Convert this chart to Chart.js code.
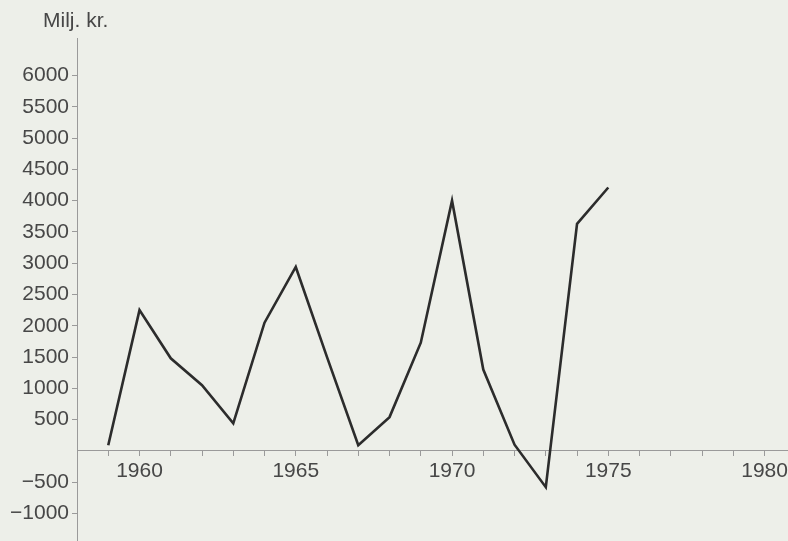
<!DOCTYPE html>
<html>
<head>
<meta charset="utf-8">
<script src="https://cdn.jsdelivr.net/npm/chart.js@4.4.0/dist/chart.umd.min.js"></script>
<style>
  html, body { margin: 0; padding: 0; background: #edefe9; overflow: hidden; }
  #wrap { position: relative; width: 788px; height: 541px; }
</style>
</head>
<body>
<div id="wrap"><canvas id="c" width="788" height="541"></canvas></div>
<script>
const unitLabel = 'Milj. kr.';
const years = [1959, 1960, 1961, 1962, 1963, 1964, 1965, 1966, 1967, 1968, 1969, 1970, 1971, 1972, 1973, 1974, 1975];
const values = [90, 2250, 1480, 1050, 440, 2050, 2940, 1500, 90, 540, 1730, 4000, 1300, 100, -580, 3630, 4210];
const yTickValues = [-1000, -500, 500, 1000, 1500, 2000, 2500, 3000, 3500, 4000, 4500, 5000, 5500, 6000];
const xLabelYears = [1960, 1965, 1970, 1975, 1980];
const xTickYears = [1959,1960,1961,1962,1963,1964,1965,1966,1967,1968,1969,1970,1971,1972,1973,1974,1975,1976,1977,1978,1979,1980];

const textColor = '#474747';
const axisColor = '#9a9a9a';
const font = { family: '"Liberation Sans", Arial, sans-serif', size: 21 };

const unitPlugin = {
  id: 'unitLabel',
  afterDraw(chart) {
    const ctx = chart.ctx;
    ctx.save();
    ctx.fillStyle = textColor;
    ctx.font = '21px "Liberation Sans", Arial, sans-serif';
    ctx.textAlign = 'left';
    ctx.textBaseline = 'alphabetic';
    ctx.fillText(unitLabel, 43, 27);
    ctx.restore();
  }
};

new Chart(document.getElementById('c'), {
  type: 'line',
  data: {
    datasets: [{
      data: years.map((y, i) => ({ x: y, y: values[i] })),
      borderColor: '#2c2c2c',
      borderWidth: 2.6,
      pointRadius: 0,
      tension: 0,
      fill: false
    }]
  },
  options: {
    responsive: false,
    animation: false,
    layout: { padding: { top: 38, left: 0, right: 0, bottom: 0 } },
    plugins: { legend: { display: false }, tooltip: { enabled: false } },
    scales: {
      x: {
        type: 'linear',
        position: { y: 0 },
        min: 1958,
        max: 1980.75,
        afterBuildTicks(scale) {
          scale.ticks = xTickYears.map(v => ({ value: v }));
        },
        afterFit(scale) {
          scale.paddingLeft = 0; scale.paddingRight = 0;
        },
        grid: { drawOnChartArea: false, drawTicks: true, tickLength: 5, color: axisColor, lineWidth: 1 },
        border: { display: true, color: axisColor, width: 1 },
        ticks: {
          autoSkip: false,
          maxRotation: 0,
          padding: 3,
          color: textColor,
          font: font,
          callback: (v) => xLabelYears.includes(v) ? String(v) : ''
        }
      },
      y: {
        type: 'linear',
        position: 'left',
        min: -1440,
        max: 6600,
        afterBuildTicks(scale) {
          scale.ticks = yTickValues.map(v => ({ value: v }));
        },
        afterFit(scale) {
          scale.width = 77;
          scale.paddingTop = 0; scale.paddingBottom = 0;
        },
        grid: { drawOnChartArea: false, drawTicks: true, tickLength: 5, color: axisColor, lineWidth: 1 },
        border: { display: true, color: axisColor, width: 1 },
        ticks: {
          autoSkip: false,
          padding: 3,
          color: textColor,
          font: font,
          callback: (v) => v < 0 ? '\u2212' + Math.abs(v) : String(v)
        }
      }
    }
  },
  plugins: [unitPlugin]
});
</script>
</body>
</html>
